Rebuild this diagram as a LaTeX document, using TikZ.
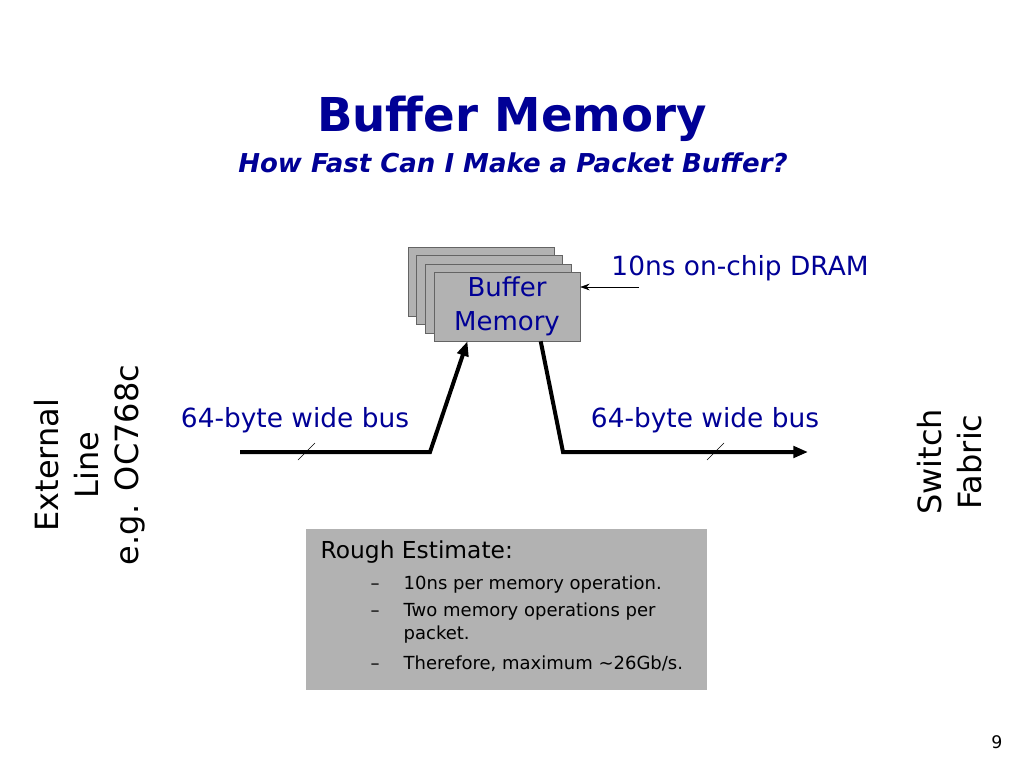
\documentclass[tikz,border=0pt]{standalone}
\usepackage{fontspec}
\setmainfont{DejaVu Sans}
\usepackage{xcolor}
\usetikzlibrary{positioning, arrows.meta, calc}

\definecolor{slideblue}{RGB}{0,0,150}
\definecolor{boxgray}{RGB}{178,178,178}
\definecolor{edgegray}{RGB}{100,100,100}

\begin{document}
\begin{tikzpicture}[
  x=0.75pt, y=-0.75pt,
  membox/.style={draw=edgegray, fill=boxgray, rectangle, minimum width=109.5pt, minimum height=51.75pt, inner sep=0pt},
  bus/.style={line width=3pt},
  blabel/.style={text=slideblue, font=\fontsize{19.8}{23}\selectfont},
  side/.style={rotate=90, align=center, font=\fontsize{24}{30}\selectfont},
  item/.style={anchor=base west, font=\fontsize{13.5}{17}\selectfont},
  >={Triangle[length=11pt, width=8.5pt]}
]
  \useasboundingbox (0,0) rectangle (1024,768);

  % 1. Title
  \node[text=slideblue, font=\bfseries\fontsize{35}{40}\selectfont] (title) at (512,119) {Buffer Memory};
  \node[text=slideblue, font=\bfseries\itshape\fontsize{19.5}{22}\selectfont] (subtitle) at (513,163) {How Fast Can I Make a Packet Buffer?};

  % 2. Stack of memory chips (back to front)
  \node[membox] (m4) at (481,281.5) {};
  \node[membox] (m3) at (489.5,290) {};
  \node[membox] (m2) at (498,298.5) {};
  \node[membox, align=center, text=slideblue, font=\fontsize{19.5}{25.5}\selectfont] (mem) at (507,306.5) {Buffer\\Memory};

  % 3. DRAM label and pointer
  \node[blabel] (dram) at (740,268) {10ns on-chip DRAM};
  \coordinate (dramtail) at (639,287);
  \draw[-{Stealth[length=7pt, width=5pt]}, thin] (dramtail) -- (mem.east |- dramtail);

  % 4. Buses
  \coordinate (linein) at (240,452);
  \coordinate (fabricout) at (808,452);
  \draw[bus, ->] (linein) -- (430,452) -- ($ (mem.south west) !0.23! (mem.south east) $);
  \draw[bus, ->] ($ (mem.south west) !0.73! (mem.south east) $) -- (563,452) -- (fabricout);
  \draw[thin] (298,460) -- (315,443);
  \draw[thin] (707,460) -- (724,443);
  \node[blabel] (busin) at (295,420) {64-byte wide bus};
  \node[blabel] (busout) at (705,420) {64-byte wide bus};

  % 5. Line side and fabric side
  \node[side] (ext) at (90,465) {External\\Line\\e.g. OC768c};
  \node[side] (fabric) at (950,462) {Switch\\Fabric};

  % 6. Estimate box
  \node[fill=boxgray, minimum width=300.75pt, minimum height=120.75pt, inner sep=0pt] (est) at (506.5,609.5) {};
  \node[anchor=base west, font=\fontsize{17.5}{20}\selectfont] (rough) at (316,558) {Rough Estimate:};
  \node[item] (d1) at (366,589) {--};
  \node[item] (t1) at (399,589) {10ns per memory operation.};
  \node[item] (d2) at (366,616) {--};
  \node[item] (t2) at (399,616) {Two memory operations per};
  \node[item] (t2b) at (399,639) {packet.};
  \node[item] (d3) at (366,669) {--};
  \node[item] (t3) at (399,669) {Therefore, maximum \textasciitilde26Gb/s.};

  % 7. Page number
  \node[font=\fontsize{13}{15}\selectfont] (page) at (997,742) {9};
\end{tikzpicture}
\end{document}
